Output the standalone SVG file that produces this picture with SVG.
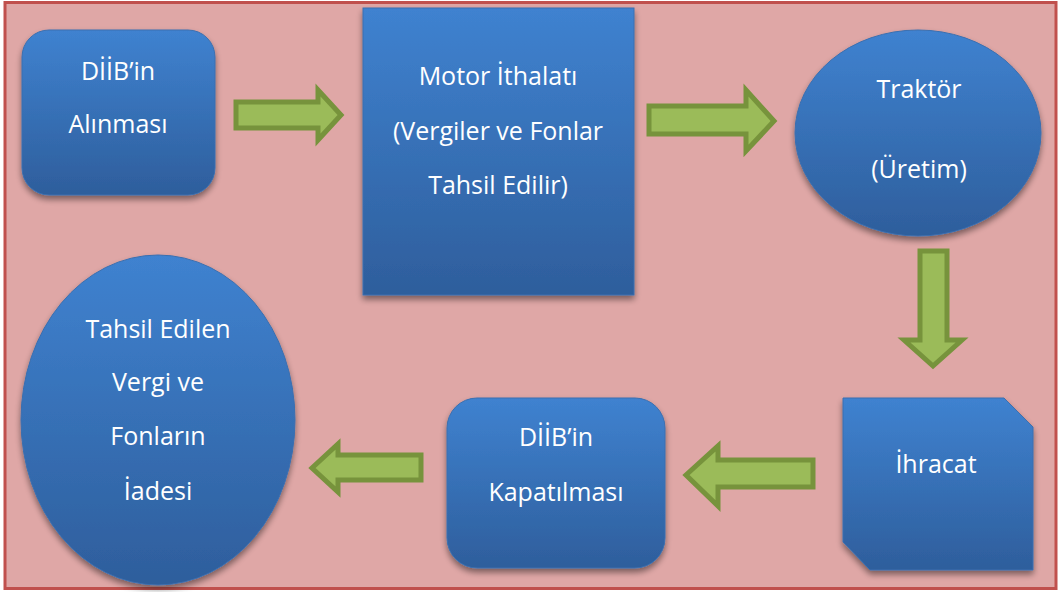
<svg xmlns="http://www.w3.org/2000/svg" width="1060" height="592" viewBox="0 0 1060 592">
<style>
.node{fill:url(#blue);stroke:#3a6fb0;stroke-width:1;filter:url(#sh)}
.lbl{font-family:"Open Sans","Liberation Sans",Arial,sans-serif;font-size:25px;fill:#ffffff;text-anchor:middle}
.arr{fill:#9bbb59;stroke:#77933c;stroke-width:5;stroke-linejoin:miter}
</style>
<defs>
<linearGradient id="blue" x1="0" y1="0" x2="0" y2="1">
<stop offset="0" stop-color="#3f82d0"/>
<stop offset="1" stop-color="#2e5e9c"/>
</linearGradient>
<filter id="sh" x="-10%" y="-10%" width="120%" height="125%">
<feGaussianBlur in="SourceAlpha" stdDeviation="3"/>
<feOffset dx="0" dy="4" result="b"/>
<feComponentTransfer><feFuncA type="linear" slope="0.45"/></feComponentTransfer>
<feMerge><feMergeNode/><feMergeNode in="SourceGraphic"/></feMerge>
</filter>
</defs>
<rect x="5" y="2.5" width="1051" height="586" fill="#dfa7a6" stroke="#c0504d" stroke-width="3"/>
<g id="connectors">
<polygon class="arr" points="236,102 318,102 318,90 341,115 318,140 318,128 236,128"/>
<polygon class="arr" points="649,106 746,106 746,90 774,121 746,151 746,134 649,134"/>
<polygon class="arr" points="920,251 947,251 947,340 962,340 933,366 904,340 920,340"/>
<polygon class="arr" points="813,460 718,460 718,446 686,475 718,506 718,487 813,487"/>
<polygon class="arr" points="421,455 338,455 338,444 312,468 338,492 338,480 421,480"/>
</g>
<g id="n1">
<rect class="node" x="22" y="30" width="193" height="165" rx="27"/>
<text class="lbl" x="118" y="80">DİİB’in</text>
<text class="lbl" x="118" y="133">Alınması</text>
</g>
<g id="n2">
<rect class="node" x="363" y="8" width="271" height="287"/>
<text class="lbl" x="498" y="85">Motor İthalatı</text>
<text class="lbl" x="498" y="140">(Vergiler ve Fonlar</text>
<text class="lbl" x="498" y="194">Tahsil Edilir)</text>
</g>
<g id="n3">
<ellipse class="node" cx="918" cy="133" rx="123" ry="103"/>
<text class="lbl" x="919" y="98">Traktör</text>
<text class="lbl" x="919" y="178">(Üretim)</text>
</g>
<g id="n4">
<polygon class="node" points="843,398 1004,398 1033,427 1033,570 870,570 843,542"/>
<text class="lbl" x="936" y="473">İhracat</text>
</g>
<g id="n5">
<rect class="node" x="447" y="398" width="218" height="170" rx="30"/>
<text class="lbl" x="556" y="446">DİİB’in</text>
<text class="lbl" x="556" y="501">Kapatılması</text>
</g>
<g id="n6">
<ellipse class="node" cx="158" cy="420" rx="137" ry="165"/>
<text class="lbl" x="158" y="338">Tahsil Edilen</text>
<text class="lbl" x="158" y="391">Vergi ve</text>
<text class="lbl" x="158" y="445">Fonların</text>
<text class="lbl" x="158" y="500">İadesi</text>
</g>
</svg>
